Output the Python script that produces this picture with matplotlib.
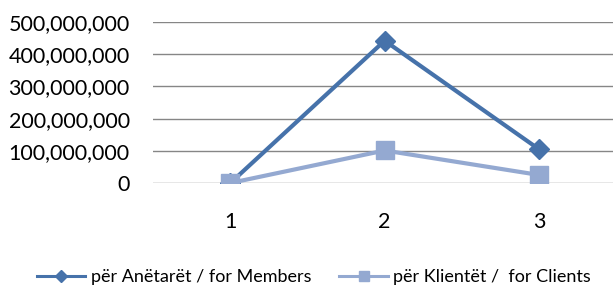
import matplotlib
matplotlib.use('Agg')
import matplotlib.pyplot as plt
from matplotlib.lines import Line2D
from matplotlib.ticker import FuncFormatter

categories = [1, 2, 3]
members = [0, 442000000, 105000000]
clients = [0, 101000000, 25000000]
labels = ['për Anëtarët / for Members', 'për Klientët /  for Clients']
dark = '#4672AA'
light = '#94A9D1'

plt.rcParams['font.family'] = ['Lato', 'DejaVu Sans']

fig = plt.figure(figsize=(6.13, 2.9), dpi=100)
ax = fig.add_axes([0.25, 0.369, 0.755, 0.555])

x = range(len(categories))
ax.plot(x, members, color=dark, lw=3, marker='D', ms=10, zorder=3)
ax.plot(x, clients, color=light, lw=3, marker='s', ms=12.5, zorder=3)

ax.set_ylim(0, 500000000)
ax.set_yticks(range(0, 500000001, 100000000))
ax.yaxis.set_major_formatter(FuncFormatter(lambda v, p: f'{int(v):,}'))
ax.set_xlim(-0.5, 2.5)
ax.set_xticks(list(x))
ax.set_xticklabels([str(c) for c in categories])
ax.grid(axis='y', color='#868686', lw=1)
ax.set_axisbelow(True)
for s in ax.spines.values():
    s.set_visible(False)
ax.tick_params(length=0, labelsize=15.5)
ax.tick_params(axis='y', pad=17)
ax.tick_params(axis='x', pad=21)

handles = [Line2D([], [], color=dark, lw=2.2, marker='D', ms=6),
           Line2D([], [], color=light, lw=2.2, marker='s', ms=7)]
fig.legend(handles, labels, loc='center', bbox_to_anchor=(0.512, 0.045), ncol=2,
           frameon=False, fontsize=13, handlelength=2.7, columnspacing=1.55,
           handletextpad=0.3)

plt.savefig('out.png', dpi=100)
